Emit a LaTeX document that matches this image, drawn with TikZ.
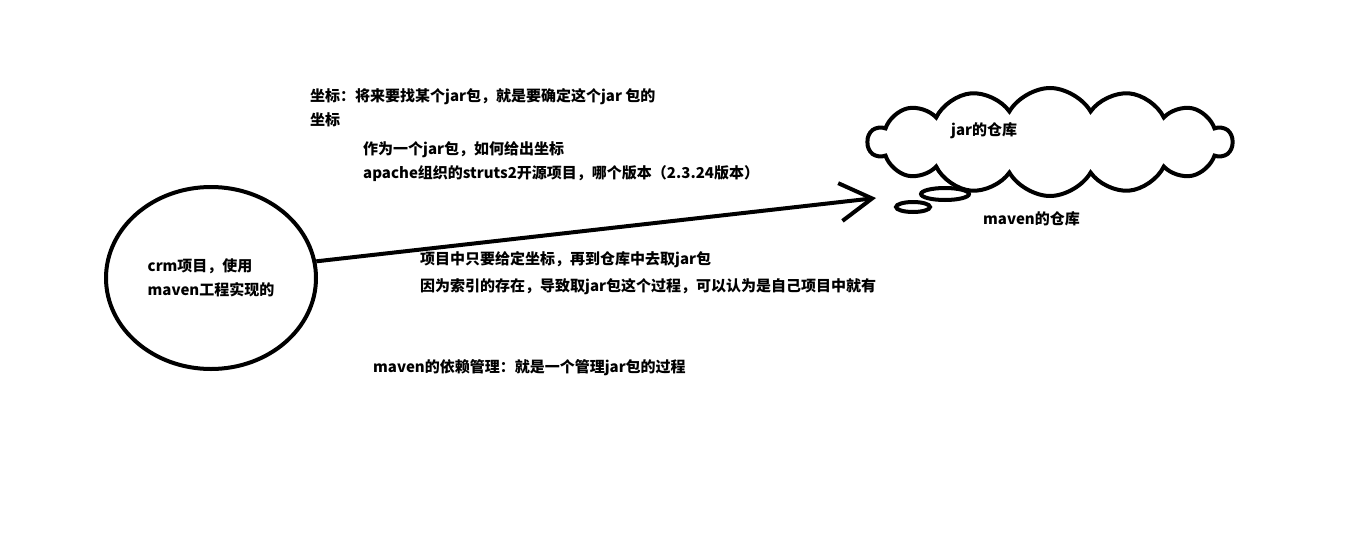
\documentclass[tikz,border=0pt]{standalone}
\usepackage{fontspec}
\setmainfont{Noto Sans CJK SC}
\usetikzlibrary{arrows.meta,shapes.geometric,shapes.symbols}

\begin{document}
\begin{tikzpicture}[x=1pt,y=-1pt,
  note/.style={anchor=west, inner sep=0pt, text height=11pt, text depth=3pt,
    font=\fontsize{15}{24}\selectfont\bfseries},
  outline/.style={draw=black, line width=4pt}]
  % Canvas
  \fill[white] (0,0) rectangle (1351,549);
  \useasboundingbox (0,0) rectangle (1351,549);

  % Project ellipse (left)
  \node[outline, ellipse, minimum width=210pt, minimum height=182pt, inner sep=0pt,
    align=left, font=\fontsize{15}{24}\selectfont\bfseries] (crm) at (211,278)
    {crm项目，使用\\maven工程实现的};

  % Repository cloud (right) with two small thought bubbles
  \node[outline, cloud, cloud puffs=14, cloud puff arc=120, aspect=3.2,
    minimum width=364pt, minimum height=108pt, inner sep=0pt] (repo) at (1050,142) {};
  \node[outline, ellipse, minimum width=48pt, minimum height=12pt, inner sep=0pt] (bubA) at (945,194) {};
  \node[outline, ellipse, minimum width=34pt, minimum height=10pt, inner sep=0pt] (bubB) at (913,207) {};
  \node[note] (jar) at (951,131) {jar的仓库};
  \node[note] (mvnrepo) at (983,220) {maven的仓库};

  % Arrow from project to repository
  \coordinate (tip) at (876,198);
  \draw[line width=4pt, -{Straight Barb[length=32pt, width=38pt]}] (crm.9) -- (tip);

  % Notes about coordinates
  \node[note] (coordA) at (310,97) {坐标：将来要找某个jar包，就是要确定这个jar 包的};
  \node[note] (coordB) at (310,121) {坐标};
  \node[note] (asjar) at (363,150) {作为一个jar包，如何给出坐标};
  \node[note] (apache) at (363,174) {apache组织的struts2开源项目，哪个版本（2.3.24版本）};

  % Notes below the arrow
  \node[note] (fetch) at (420,260) {项目中只要给定坐标，再到仓库中去取jar包};
  \node[note] (index) at (420,287) {因为索引的存在，导致取jar包这个过程，可以认为是自己项目中就有};
  \node[note] (depmgmt) at (373,368) {maven的依赖管理：就是一个管理jar包的过程};
\end{tikzpicture}
\end{document}
